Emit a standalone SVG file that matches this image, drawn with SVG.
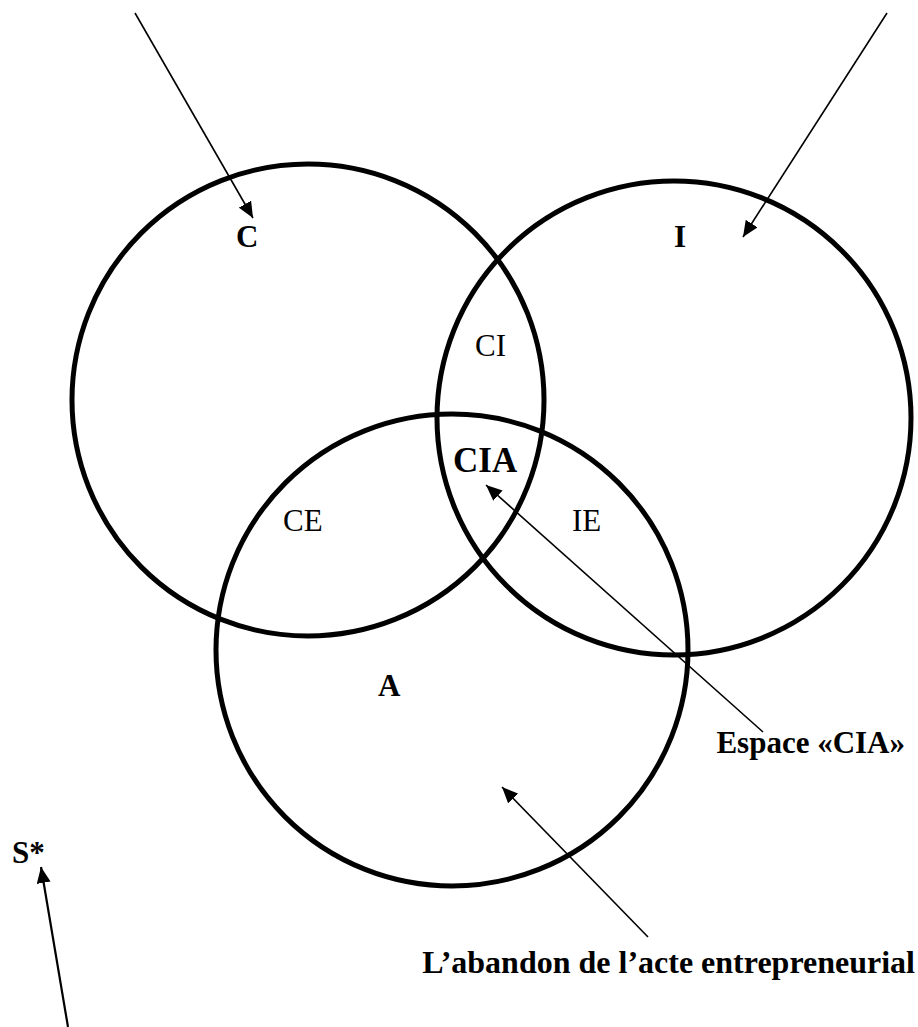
<svg xmlns="http://www.w3.org/2000/svg" width="918" height="1027" viewBox="0 0 918 1027">
<style>
.ring{fill:none;stroke:#000;stroke-width:5}
.lbl{font-family:"Liberation Serif","Times New Roman",serif;font-size:31px;fill:#000}
.b{font-weight:bold}
.conn line{stroke:#000;stroke-width:1.6;marker-end:url(#ah)}
</style>
<defs>
<marker id="ah" markerUnits="userSpaceOnUse" markerWidth="18" markerHeight="14" refX="16" refY="7" orient="auto">
<path d="M0,0 L16,7 L0,14 Z" fill="#000"/>
</marker>
</defs>
<rect width="918" height="1027" fill="#fff"/>
<g id="circle-C"><circle class="ring" cx="308" cy="400" r="236"/><text class="lbl b" x="236" y="247">C</text></g>
<g id="circle-I"><circle class="ring" cx="674" cy="418" r="237"/><text class="lbl b" x="674" y="247">I</text></g>
<g id="circle-A"><circle class="ring" cx="452" cy="650" r="236"/><text class="lbl b" x="378" y="696">A</text></g>
<g id="zone-CI"><text class="lbl" x="475" y="356">CI</text></g>
<g id="zone-CIA"><text class="lbl b" x="453" y="472" style="font-size:35px">CIA</text></g>
<g id="zone-CE"><text class="lbl" x="283" y="531">CE</text></g>
<g id="zone-IE"><text class="lbl" x="572" y="531">IE</text></g>
<g id="label-S"><text class="lbl b" x="12" y="863">S*</text></g>
<g id="label-espace"><text class="lbl b" x="905" y="753" text-anchor="end">Espace «CIA»</text></g>
<g id="label-abandon"><text class="lbl b" x="915" y="973" text-anchor="end" style="font-size:32px">L’abandon de l’acte entrepreneurial</text></g>
<g id="connectors" class="conn">
<line x1="135" y1="13" x2="253" y2="218"/>
<line x1="887" y1="13" x2="743" y2="237"/>
<line x1="763" y1="732" x2="486" y2="485"/>
<line x1="648" y1="937" x2="502" y2="787"/>
<line x1="68" y1="1027" x2="41" y2="867" style="stroke-width:2.2"/>
</g>
</svg>
